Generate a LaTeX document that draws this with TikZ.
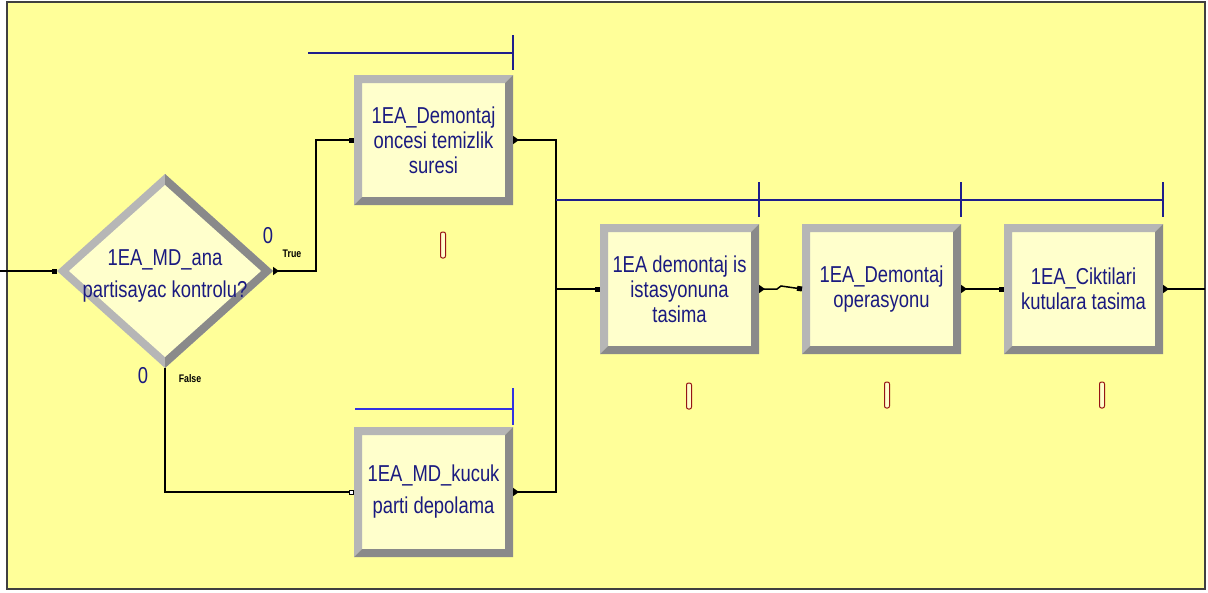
\documentclass[tikz,border=0pt]{standalone}
\usepackage{fontspec}
\newfontfamily\arenafont[FakeStretch=0.8]{Liberation Sans}
\usetikzlibrary{shapes.geometric, arrows.meta, positioning}

\definecolor{sheet}{RGB}{255,255,153}
\definecolor{boxfill}{RGB}{255,255,204}
\definecolor{bevlight}{RGB}{182,182,182}
\definecolor{bevdark}{RGB}{138,138,138}
\definecolor{labelblue}{RGB}{26,26,128}
\definecolor{queueblue}{RGB}{30,30,140}
\definecolor{queuebright}{RGB}{50,50,225}
\definecolor{counterred}{RGB}{150,20,20}

\begin{document}
\begin{tikzpicture}[
    x=1pt, y=-1pt,
    proc/.style={rectangle, fill=boxfill, minimum width=159pt, minimum height=130pt, inner sep=0pt, outer sep=0pt, align=center, text=labelblue, font=\arenafont\fontsize{23}{25}\selectfont},
    decide/.style={diamond, fill=bevlight, minimum width=216pt, minimum height=194pt, inner sep=0pt, outer sep=0pt},
    decideinner/.style={diamond, fill=boxfill, minimum width=192pt, minimum height=172pt, inner sep=0pt, outer sep=0pt},
    decidetext/.style={align=center, text=labelblue, font=\arenafont\fontsize{23}{32}\selectfont},
    counter/.style={text=labelblue, inner sep=0pt, font=\arenafont\fontsize{23}{23}\selectfont},
    branch/.style={inner sep=0pt, font=\arenafont\bfseries\fontsize{11}{11}\selectfont},
    flow/.style={line width=1.5pt, -{Square[length=5pt, width=5pt]}},
    flowout/.style={line width=1.5pt, {Triangle[reversed, length=6pt, width=8pt]}-{Square[length=5pt, width=5pt]}},
    flowjoin/.style={line width=1.5pt, {Triangle[reversed, length=6pt, width=8pt]}-},
    queue/.style={draw=queueblue, line width=1.3pt},
    gauge/.style={draw=counterred, fill=boxfill, line width=1pt, rounded corners=2pt}
]
\useasboundingbox (0,0) rectangle (1208,592);
\fill[white] (0,0) rectangle (1208,592);
\draw[draw=black!75, line width=2.5pt, fill=sheet] (7,2) rectangle (1205,589);

% Decide module
\node[decide] (ana) at (165,271) {};
\fill[bevdark] (ana.north) -- (ana.east) -- (ana.south) -- cycle;
\node[decideinner, label={[decidetext, yshift=-5pt]center:{1EA\_MD\_ana\\partisayac kontrolu?}}] (anain) at (ana.center) {};

% Process modules
\node[proc] (oncesi) at (433.5,140) {1EA\_Demontaj\\oncesi temizlik\\suresi};
\node[proc, below=222pt of oncesi, font=\arenafont\fontsize{23}{32}\selectfont] (kucuk) {1EA\_MD\_kucuk\\parti depolama};
\node[proc] (istasyon) at (679.5,289) {1EA demontaj is\\istasyonuna\\tasima};
\node[proc, right=43pt of istasyon] (operasyon) {1EA\_Demontaj\\operasyonu};
\node[proc, right=43pt of operasyon] (cikti) {1EA\_Ciktilari\\kutulara tasima};

% Bevelled frames
\foreach \b in {oncesi,kucuk,istasyon,operasyon,cikti} {
  \fill[bevlight] (\b.south west) -- (\b.north west) -- (\b.north east)
    -- ([shift={(-8pt,-8pt)}]\b.north east) -- ([shift={(8pt,-8pt)}]\b.north west)
    -- ([shift={(8pt,8pt)}]\b.south west) -- cycle;
  \fill[bevdark] (\b.north east) -- (\b.south east) -- (\b.south west)
    -- ([shift={(8pt,8pt)}]\b.south west) -- ([shift={(-8pt,8pt)}]\b.south east)
    -- ([shift={(-8pt,-8pt)}]\b.north east) -- cycle;
}

% Counters and branch labels
\node[counter] (truecount) at (268,236) {0};
\node[counter] (falsecount) at (143,376) {0};
\node[branch] (truelabel) at (292,254) {True};
\node[branch] (falselabel) at (190,379) {False};

% Connections
\coordinate (inleft) at (0,271);
\coordinate (merge) at (556,289);
\coordinate (outright) at (1205,289);
\draw[flow] (inleft) -- (ana.west);
\draw[flowout] (ana.east) -- ++(43,0) |- (oncesi.west);
\draw[flowout, -{Square[length=5pt, width=5pt, fill=white, line width=0.8pt]}] (ana.south) |- (kucuk.west);
\draw[flowjoin] (oncesi.east) -| (merge);
\draw[flowjoin] (kucuk.east) -| (merge);
\draw[flow] (merge) -- (istasyon.west);
\draw[flowout] (istasyon.east) -- ++(18,0) -- ++(4,-3) -- (operasyon.west);
\draw[flowout] (operasyon.east) -- (cikti.west);
\draw[flowjoin] (cikti.east) -- (outright);

% Queues
\draw[queue] (308,53) -- (513,53) (513,35) -- (513,70);
\draw[queue, draw=queuebright] (355,409) -- (513,409) (513,388) -- (513,425);
\draw[queue] (556,200) -- (1163,200);
\foreach \x in {759,961,1163}
  \draw[queue] (\x,182) -- (\x,217);

% Resource gauges
\foreach \x/\y in {443/245, 689/396, 887/395, 1102/395}
  \draw[gauge] (\x-2.5,\y-13) rectangle (\x+2.5,\y+13);

\end{tikzpicture}
\end{document}
